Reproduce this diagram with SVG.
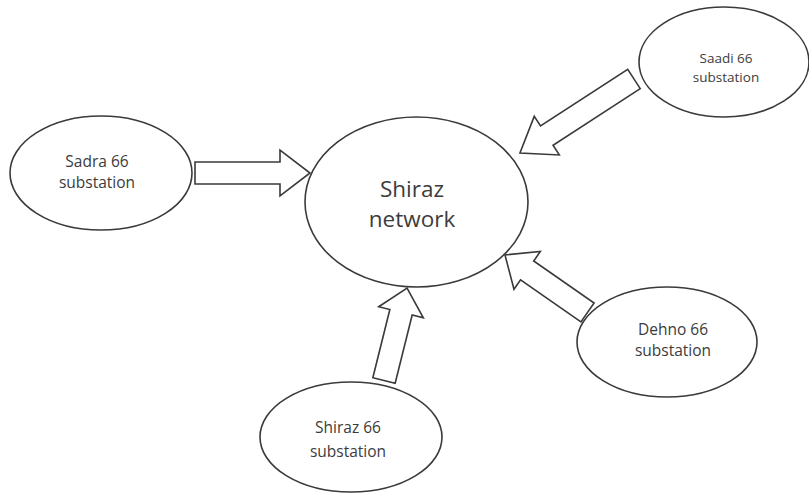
<svg xmlns="http://www.w3.org/2000/svg" width="809" height="493" viewBox="0 0 809 493">
<style>
.node ellipse{fill:#fff;stroke:#3a3a3a;stroke-width:1.6}
.lbl{font-family:"Open Sans","Liberation Sans",sans-serif;fill:#3c3c3c;text-anchor:middle}
.sm{font-size:15.5px}
.xs{font-size:13.5px}
.big{font-size:22.5px}
.arr{fill:#fff;stroke:#3a3a3a;stroke-width:1.6;stroke-linejoin:miter}
</style>
<rect width="809" height="493" fill="#fff"/>
<g id="connectors">
<polygon class="arr" transform="translate(195,173)" points="0,-11 85,-11 85,-23 115,0 85,23 85,11 0,11"/>
<polygon class="arr" transform="translate(634,79) rotate(147)" points="0,-11.5 104,-11.5 104,-23 136,0 104,23 104,11.5 0,11.5"/>
<polygon class="arr" transform="translate(587.5,312.5) rotate(-145.1)" points="0,-11.5 73.6,-11.5 73.6,-23 100.6,0 73.6,23 73.6,11.5 0,11.5"/>
<polygon class="arr" transform="translate(384,380.5) rotate(-76)" points="0,-11.5 70.3,-11.5 70.3,-23 95.3,0 70.3,23 70.3,11.5 0,11.5"/>
</g>
<g id="shiraz-network" class="node">
<ellipse cx="416.5" cy="202" rx="111.5" ry="85"/>
<text class="lbl big" x="412" y="197">Shiraz</text>
<text class="lbl big" x="412" y="227">network</text>
</g>
<g id="sadra" class="node">
<ellipse cx="101" cy="173" rx="91" ry="57"/>
<text class="lbl sm" x="97" y="167">Sadra 66</text>
<text class="lbl sm" x="97" y="188">substation</text>
</g>
<g id="saadi" class="node">
<ellipse cx="724" cy="62" rx="85" ry="55"/>
<text class="lbl xs" x="726" y="62.5">Saadi 66</text>
<text class="lbl xs" x="726" y="81.5">substation</text>
</g>
<g id="dehno" class="node">
<ellipse cx="667" cy="342" rx="90" ry="55"/>
<text class="lbl sm" x="673" y="335">Dehno 66</text>
<text class="lbl sm" x="673" y="356">substation</text>
</g>
<g id="shiraz66" class="node">
<ellipse cx="351" cy="437" rx="91" ry="55"/>
<text class="lbl sm" x="348" y="433">Shiraz 66</text>
<text class="lbl sm" x="348" y="457">substation</text>
</g>
</svg>
